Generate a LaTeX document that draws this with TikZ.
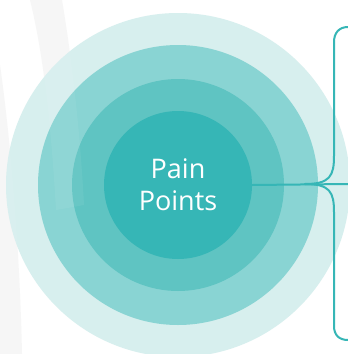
\documentclass[tikz,border=0pt]{standalone}
\usepackage{fontspec}
\setmainfont{Open Sans}
\definecolor{c1}{HTML}{D7EFEE}
\definecolor{c2}{HTML}{89D4D3}
\definecolor{c3}{HTML}{5FC4C2}
\definecolor{c4}{HTML}{36B6B6}
\definecolor{ghost}{HTML}{F0F0F0}
\tikzset{
  ring/.style={circle, inner sep=0pt, minimum size=#1},
  bracket/.style={draw=c4, line width=2pt, line cap=round},
}
\begin{document}
\begin{tikzpicture}[x=1pt,y=-1pt]
\useasboundingbox (0,0) rectangle (348,354);
\fill[white] (0,0) rectangle (348,354);
\fill[ghost, opacity=0.6] (30,0) .. controls (45,60) and (52,140) .. (56,210) -- (84,205) .. controls (80,130) and (72,60) .. (62,0) -- cycle;
\fill[ghost, opacity=0.6] (0,65) .. controls (12,150) and (20,260) .. (22,354) -- (0,354) -- cycle;
\node[ring=344pt, fill=c1] (r1) at (178,185) {};
\node[ring=280pt, fill=c2] (r2) at (178,185) {};
\node[ring=212pt, fill=c3] (r3) at (178,185) {};
% faint brush strokes over the rings
\fill[white, opacity=0.06] (30,0) .. controls (45,60) and (52,140) .. (56,210) -- (84,205) .. controls (80,130) and (72,60) .. (62,0) -- cycle;
\fill[white, opacity=0.06] (0,65) .. controls (12,150) and (20,260) .. (22,354) -- (0,354) -- cycle;
\node[ring=148pt, fill=c4, text=white, font=\fontsize{27}{32}\selectfont, align=center] (core) at (178,185) {Pain\\Points};
\coordinate (j) at (305,184);
\coordinate (e) at (348,184);
\coordinate (t) at (348,27);
\coordinate (b) at (348,340);
\draw[bracket] (core.east) -- (e);
\draw[bracket] (j) .. controls (330,184) and (334,176) .. (334,156) -- (334,42) .. controls (334,33) and (339,27) .. (t);
\draw[bracket] (j) .. controls (330,184) and (334,192) .. (334,212) -- (334,326) .. controls (334,335) and (339,340) .. (b);
\end{tikzpicture}
\end{document}
